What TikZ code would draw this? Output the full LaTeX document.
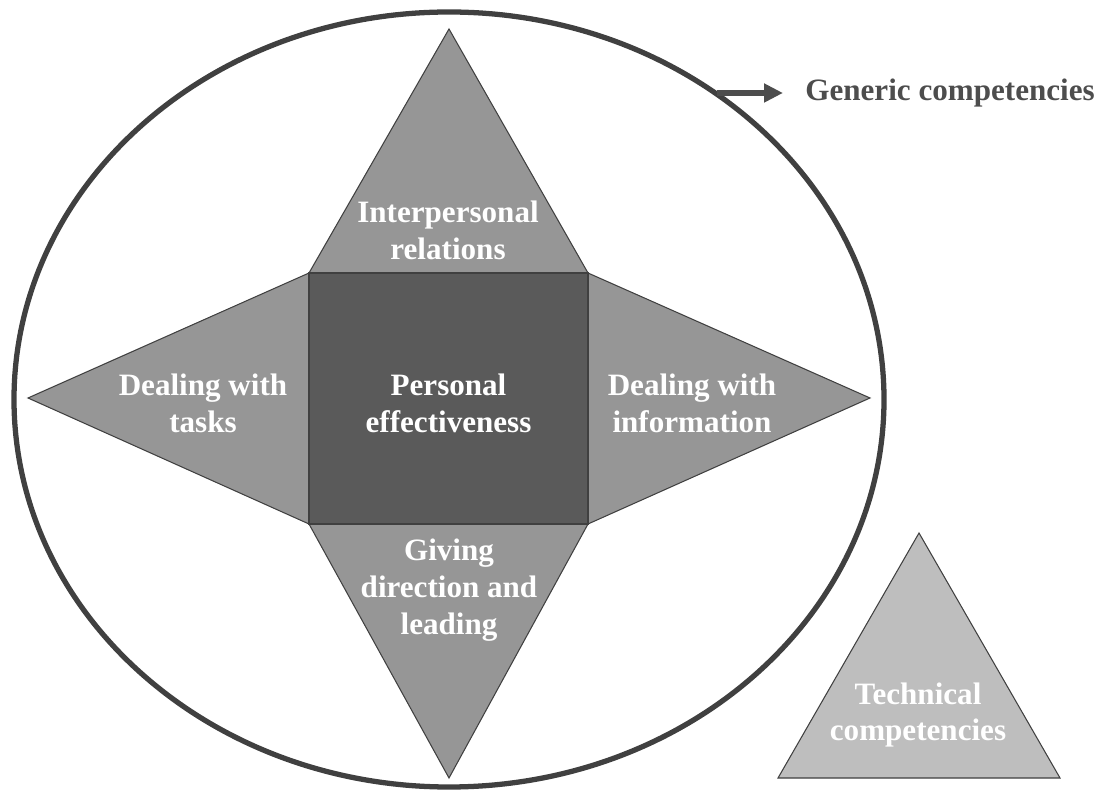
\documentclass[tikz,border=0pt]{standalone}
\usepackage{fontspec}
\setmainfont{Liberation Serif}
\usetikzlibrary{arrows.meta}
\definecolor{ringgray}{HTML}{404040}
\definecolor{petalgray}{HTML}{969696}
\definecolor{coregray}{HTML}{5A5A5A}
\definecolor{techgray}{HTML}{BEBEBE}
\definecolor{labelgray}{HTML}{4D4D4D}
\begin{document}
\begin{tikzpicture}[
    petal/.style={fill=petalgray,draw=ringgray,line width=0.6pt,line join=miter},
    lbl/.style={align=center,text=white,inner sep=0pt,font=\fontsize{17.7}{21}\selectfont\bfseries}
]
    \useasboundingbox (0,0) rectangle (22.06,15.82);
    % outer ring
    \draw[ringgray,line width=3pt] (8.98,7.83) ellipse (8.70 and 7.75);
    % four points of the star
    \draw[petal] (6.18,10.36) -- (8.98,15.24) -- (11.76,10.36) -- cycle;
    \draw[petal] (6.18,10.36) -- (0.56,7.86) -- (6.18,5.34) -- cycle;
    \draw[petal] (11.76,10.36) -- (17.40,7.86) -- (11.76,5.34) -- cycle;
    \draw[petal] (6.18,5.34) -- (8.98,0.26) -- (11.76,5.34) -- cycle;
    \draw[petal,fill=coregray] (6.18,5.34) rectangle (11.76,10.36);
    \draw[petal,fill=techgray] (18.38,5.16) -- (15.56,0.26) -- (21.20,0.26) -- cycle;
    % labels
    \node[lbl] (interpersonal) at (8.96,11.22) {Interpersonal\\relations};
    \node[lbl] (personal) at (8.97,7.76) {Personal\\effectiveness};
    \node[lbl] (tasks) at (4.06,7.76) {Dealing with\\tasks};
    \node[lbl] (information) at (13.84,7.76) {Dealing with\\information};
    \node[lbl] (leading) at (8.98,4.02) {Giving\\direction and\\leading};
    \node[lbl] (technical) at (18.36,1.52) {Technical\\competencies};
    \node[lbl,text=labelgray,anchor=west] (generic) at (16.10,13.96) {Generic competencies};
    \coordinate (gstart) at (14.34,13.96);
    \draw[labelgray,line width=3pt,-{Triangle[length=0.38cm,width=0.36cm]},shorten >=0.44cm] (gstart) -- (generic.west);
\end{tikzpicture}
\end{document}
